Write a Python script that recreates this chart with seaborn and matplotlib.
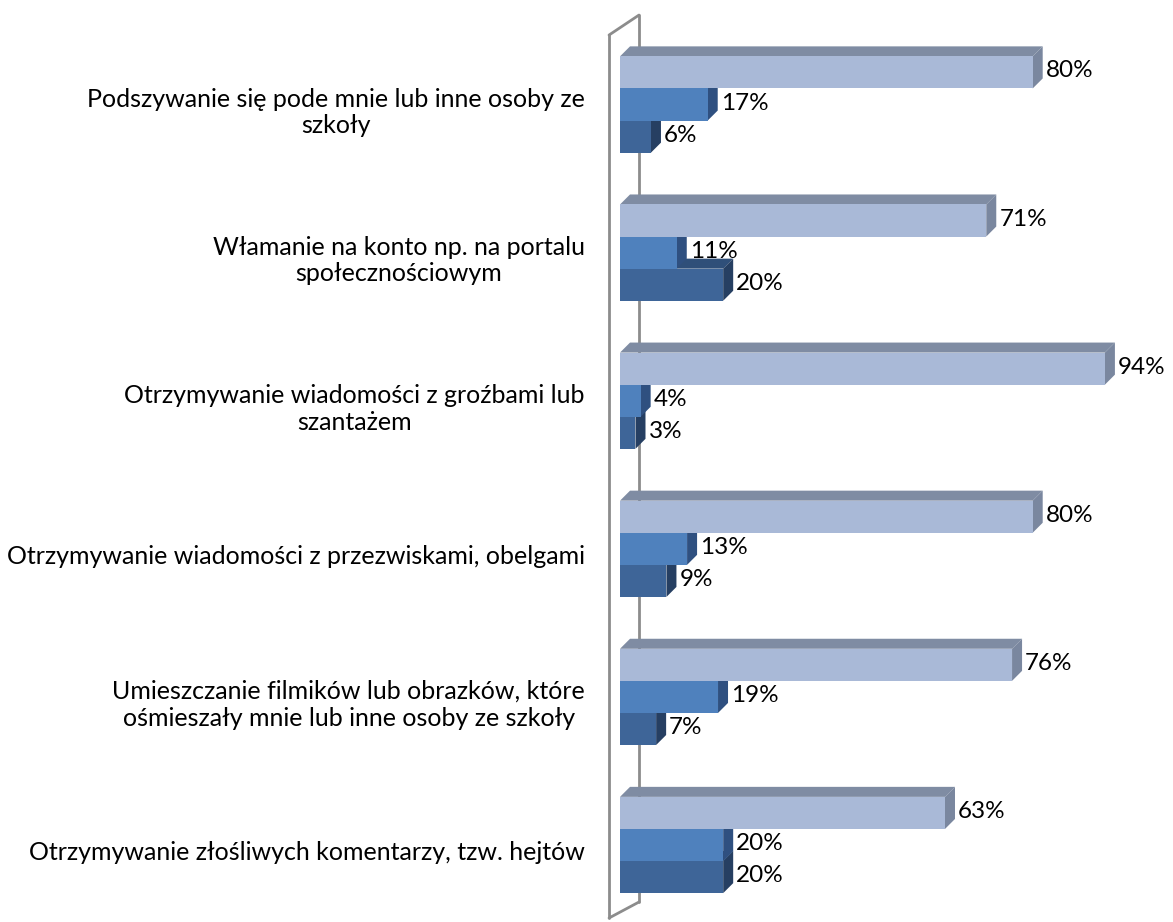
# -*- coding: utf-8 -*-
import numpy as np
import pandas as pd
import matplotlib
matplotlib.use('Agg')
import matplotlib.pyplot as plt
from matplotlib.patches import Polygon
from matplotlib.lines import Line2D
from matplotlib.transforms import ScaledTranslation, blended_transform_factory
import seaborn as sns

# %% data
kategorie = ['Podszywanie się pode mnie lub inne osoby ze\nszkoły',
             'Włamanie na konto np. na portalu\nspołecznościowym',
             'Otrzymywanie wiadomości z groźbami lub\nszantażem',
             'Otrzymywanie wiadomości z przezwiskami, obelgami',
             'Umieszczanie filmików lub obrazków, które\nośmieszały mnie lub inne osoby ze szkoły',
             'Otrzymywanie złośliwych komentarzy, tzw. hejtów']
serie = ['seria 1', 'seria 2', 'seria 3']
seria_1 = [80, 71, 94, 80, 76, 63]
seria_2 = [17, 11, 4, 13, 19, 20]
seria_3 = [6, 20, 3, 9, 7, 20]

kolory = ['#A9B9D7', '#4F81BD', '#3E6598']
kolory_gora = ['#7F8CA3', '#3B6194', '#2F4F79']
kolory_bok = ['#7A879F', '#2F5080', '#263F62']

df = pd.DataFrame({'kategoria': kategorie * 3,
                   'seria': np.repeat(serie, len(kategorie)),
                   'procent': seria_1 + seria_2 + seria_3})

# %% plot
sns.set_theme(style='white')
plt.rcParams['font.family'] = ['Lato', 'DejaVu Sans']

fig = plt.figure(figsize=(11.73, 9.22), dpi=100)
ax = fig.add_axes([600 / 1173, 0, 573 / 1173, 1])

sns.barplot(data=df, y='kategoria', x='procent', hue='seria', orient='h',
            palette=kolory, width=0.65, saturation=1, legend=False,
            ax=ax, zorder=3, linewidth=0)

ax.set_xlim(-3.88, 107.2)
ax.set_ylim(5.52, -0.7056)

# depth of the 3d effect (~10 px right, ~10 px up)
dx = 10 / 5.158
dy = 10 / 148.1

for i, cont in enumerate(ax.containers):
    for rect, v in zip(cont.patches, cont.datavalues):
        x0, yt = rect.get_x(), rect.get_y()
        w, h = rect.get_width(), rect.get_height()
        zo = 2.5 - 0.1 * i
        ax.add_patch(Polygon([(x0, yt), (x0 + w, yt), (x0 + w + dx, yt - dy),
                              (x0 + dx, yt - dy)], closed=True,
                             facecolor=kolory_gora[i], lw=0, zorder=zo))
        ax.add_patch(Polygon([(x0 + w, yt), (x0 + w + dx, yt - dy),
                              (x0 + w + dx, yt + h - dy), (x0 + w, yt + h)],
                             closed=True, facecolor=kolory_bok[i], lw=0, zorder=zo))
        ax.text(x0 + w + dx + 0.6, yt + h / 2 - 0.01, '{:.0f}%'.format(v),
                ha='left', va='center', fontsize=17.5, color='black', zorder=5)

# wall of the 3d chart
szary = '#8C8C8C'
xf, xb = -2.13, 3.68
for (xs, ys) in [([xf, xf], [-0.469, 5.493]),
                 ([xb, xb], [-0.604, 5.385]),
                 ([xf, xb], [-0.469, -0.604]),
                 ([xf, xb], [5.493, 5.385])]:
    ax.add_line(Line2D(xs, ys, color=szary, lw=2, zorder=1, clip_on=False))

# category labels
trans = blended_transform_factory(ax.transAxes, ax.transData)
off = ScaledTranslation(0, -8 / 100, fig.dpi_scale_trans)
for k, lab in enumerate(kategorie):
    ax.text(-15 / 573, k, lab, transform=trans + off, ha='right', va='center',
            multialignment='center', fontsize=18, color='black',
            linespacing=1.2)

ax.set_yticks([])
ax.set_xticks([])
ax.set_xlabel('')
ax.set_ylabel('')
sns.despine(ax=ax, left=True, bottom=True)

plt.savefig('out.png', dpi=100)
